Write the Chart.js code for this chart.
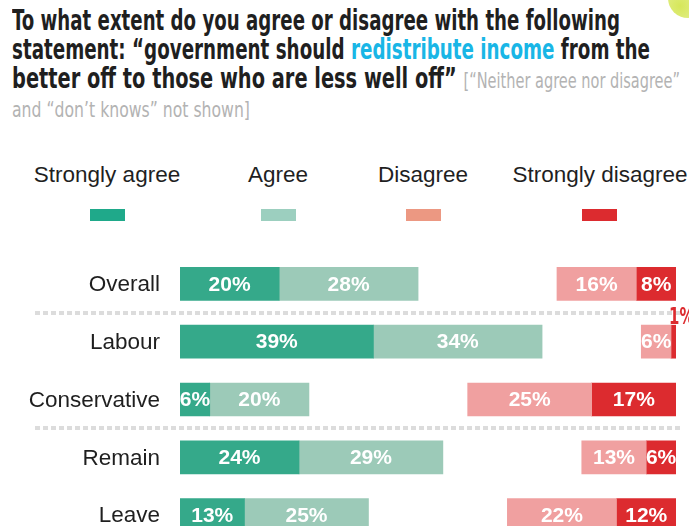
<!DOCTYPE html>
<html>
<head>
<meta charset="utf-8">
<script src="https://cdn.jsdelivr.net/npm/chart.js@4/dist/chart.umd.min.js"></script>
<style>
  html, body { margin:0; padding:0; width:689px; height:526px; overflow:hidden; background:#fff; }
  #title { position:absolute; left:12px; top:6px; font-family:"Liberation Sans Narrow","DejaVu Sans Condensed","Liberation Sans",sans-serif; font-weight:bold; font-size:28px; color:#1f1f1f; }
  .tl { white-space:nowrap; line-height:29px; height:29px; transform-origin:0 50%; display:block; width:max-content; }
  .hl { color:#19b6e6; }
  .gray { color:#b3b3b3; font-weight:normal; font-size:21px; }
  .legend { position:absolute; font-family:"Liberation Sans",Arial,sans-serif; font-size:22.5px; color:#1f1f1f; transform:translateX(-50%); white-space:nowrap; top:162px; }
  .sw { position:absolute; top:209px; width:35px; height:12px; }
  #corner { position:absolute; left:668px; top:-22px; width:40px; height:40px; border-radius:50%; background:radial-gradient(circle at 30% 70%, #d6e75a, #eef5b8); }
  #wrap { position:absolute; left:0; top:0; width:689px; height:544px; }
</style>
</head>
<body>
<div id="corner"></div>
<div id="title">
  <span class="tl" data-w="608">To what extent do you agree or disagree with the following</span>
  <span class="tl" data-w="638">statement: “government should <span class="hl">redistribute income</span> from the</span>
  <span class="tl" data-w="668">better off to those who are less well off” <span class="gray">[“Neither agree nor disagree”</span></span>
  <span class="tl" data-w="238"><span class="gray">and “don’t knows” not shown]</span></span>
</div>
<div class="legend" style="left:107px">Strongly agree</div>
<div class="legend" style="left:278px">Agree</div>
<div class="legend" style="left:423px">Disagree</div>
<div class="legend" style="left:600px">Strongly disagree</div>
<div class="sw" style="left:90px;background:#1fa98a"></div>
<div class="sw" style="left:261px;background:#9ccfbf"></div>
<div class="sw" style="left:406px;background:#ec9882"></div>
<div class="sw" style="left:582px;background:#dc2b2f"></div>
<div id="wrap"><canvas id="c"></canvas></div>
<script>
const categories = ['Overall', 'Labour', 'Conservative', 'Remain', 'Leave'];
const stronglyAgree = [20, 39, 6, 24, 13];
const agree = [28, 34, 20, 29, 25];
const disagree = [16, 6, 25, 13, 22];
const stronglyDisagree = [8, 1, 17, 6, 12];
const seriesNames = ['Strongly agree', 'Agree', '', 'Disagree', 'Strongly disagree'];

// fit title lines to their measured widths
document.querySelectorAll('.tl').forEach(el => {
  const target = +el.dataset.w;
  const w = el.getBoundingClientRect().width;
  if (w > 0) el.style.transform = 'scaleX(' + (target / w) + ')';
});

const gap = categories.map((_, i) => 100 - stronglyAgree[i] - agree[i] - disagree[i] - stronglyDisagree[i]);

const labelPlugin = {
  id: 'labels',
  afterDatasetsDraw(chart) {
    const ctx = chart.ctx;
    ctx.save();
    // separators
    const m0 = chart.getDatasetMeta(0).data;
    ctx.strokeStyle = '#dcdcdc';
    ctx.lineWidth = 4;
    ctx.setLineDash([5, 3]);
    [[0, 1], [2, 3]].forEach(([a, b]) => {
      const y = Math.round((m0[a].y + m0[b].y) / 2);
      ctx.beginPath();
      ctx.moveTo(35, y);
      ctx.lineTo(680, y);
      ctx.stroke();
    });
    ctx.setLineDash([]);
    // category labels
    ctx.fillStyle = '#1f1f1f';
    ctx.font = '22.5px "Liberation Sans", Arial, sans-serif';
    ctx.textAlign = 'right';
    ctx.textBaseline = 'middle';
    m0.forEach((el, i) => ctx.fillText(categories[i], 160, el.y + 1));
    // value labels
    [0, 1, 3, 4].forEach(di => {
      const meta = chart.getDatasetMeta(di);
      const vals = chart.data.datasets[di].data;
      meta.data.forEach((el, i) => {
        const v = vals[i];
        const txt = v + '%';
        if (v < 3) {
          ctx.save();
          ctx.font = 'bold 23px "DejaVu Sans Condensed", "Liberation Sans", sans-serif';
          ctx.fillStyle = '#dc2b2f';
          ctx.textAlign = 'left';
          ctx.textBaseline = 'alphabetic';
          ctx.translate(Math.min(el.x, el.base) - 2, el.y - el.height / 2 - 1);
          ctx.scale(0.72, 1);
          ctx.fillText(txt, 0, 0);
          ctx.restore();
        } else {
          ctx.font = 'bold 21px "Liberation Sans", Arial, sans-serif';
          ctx.fillStyle = '#ffffff';
          ctx.textAlign = 'center';
          ctx.textBaseline = 'middle';
          ctx.fillText(txt, (el.x + el.base) / 2, el.y + 1);
        }
      });
    });
    ctx.restore();
  }
};

new Chart(document.getElementById('c'), {
  type: 'bar',
  data: {
    labels: categories,
    datasets: [
      { label: seriesNames[0], data: stronglyAgree, backgroundColor: '#35a98a' },
      { label: seriesNames[1], data: agree, backgroundColor: '#9ccab8' },
      { label: 'gap', data: gap, backgroundColor: 'rgba(0,0,0,0)', borderColor: 'rgba(0,0,0,0)' },
      { label: seriesNames[3], data: disagree, backgroundColor: '#f0a0a0' },
      { label: seriesNames[4], data: stronglyDisagree, backgroundColor: '#dc2b2f' }
    ]
  },
  options: {
    indexAxis: 'y',
    responsive: true,
    maintainAspectRatio: false,
    animation: false,
    layout: { padding: { left: 180, right: 13, top: 255, bottom: 0 } },
    datasets: { bar: { barThickness: 33, borderWidth: 0, borderSkipped: false } },
    scales: {
      x: { stacked: true, min: 0, max: 100, display: false },
      y: { stacked: true, display: false }
    },
    plugins: { legend: { display: false }, tooltip: { enabled: false } }
  },
  plugins: [labelPlugin]
});
</script>
</body>
</html>
